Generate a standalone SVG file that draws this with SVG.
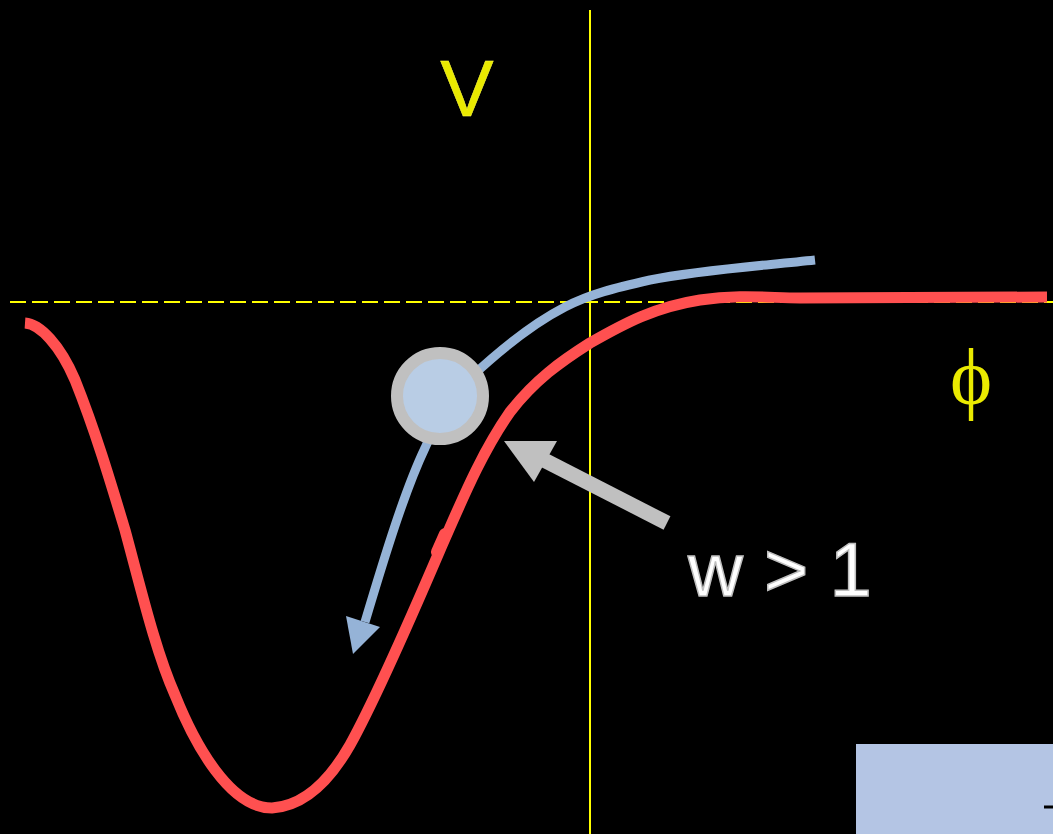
<svg xmlns="http://www.w3.org/2000/svg" width="1053" height="834" viewBox="0 0 1053 834">
<style>
.axis{stroke:#ffff00;stroke-width:2;fill:none}
.red{stroke:#ff5050;stroke-width:11;fill:none;stroke-linejoin:round}
.blue{stroke:#95b3d7;stroke-width:9;fill:none}
.lbl{font-family:"Liberation Sans",Arial,sans-serif}
</style>
<rect x="0" y="0" width="1053" height="834" fill="#000"/>
<g id="axes">
<line class="axis" x1="590" y1="10" x2="590" y2="834"/>
<line class="axis" x1="10" y1="302" x2="1053" y2="302" stroke-dasharray="16,6"/>
</g>
<g id="potential">
<path class="red" d="M25,323 C40,324 60,345 75,380 C95,430 110,480 125,530 C140,585 155,650 175,695 C195,745 230,808 272,808 C305,806 330,780 350,745 C375,700 410,620 440,550 C460,505 480,455 510,412 C535,380 560,362 590,343 C625,323 655,307 700,300 C740,294 770,298 800,298 C850,298 900,297 1047,297"/>
<path d="M437,552 L445,534" stroke="#ff5050" stroke-width="12" stroke-linecap="round"/>
</g>
<g id="connectors">
<path class="blue" d="M815,260 C760,266 700,270 650,280 C615,288 590,294 565,307 C530,325 500,350 470,378 C450,398 435,425 425,448 C405,490 385,555 365,622"/>
<polygon points="346,616 380,627 353,654" fill="#95b3d7"/>
<line x1="667" y1="523" x2="540" y2="458" stroke="#c0c0c0" stroke-width="15"/>
<polygon points="504,441 557,441 534,482" fill="#c0c0c0"/>
</g>
<g id="ball">
<circle cx="440" cy="396" r="43" fill="#b9cde5" stroke="#c0c0c0" stroke-width="12"/>
</g>
<g id="label-V">
<text class="lbl" x="467" y="116" font-size="80" text-anchor="middle" fill="#eaea00" stroke="#ffff40" stroke-width="0.5">V</text>
</g>
<g id="label-phi">
<text x="971" y="404" font-family="'Liberation Serif','DejaVu Serif',serif" font-size="80" text-anchor="middle" fill="#eaea00">ϕ</text>
</g>
<g id="label-w">
<text class="lbl" x="780" y="596" font-size="76" text-anchor="middle" fill="#ffffff" stroke="#bfbfbf" stroke-width="1.5">w &gt; 1</text>
</g>
<g id="box">
<rect x="856" y="744" width="197" height="90" fill="#b4c5e4"/>
<line x1="1044" y1="807" x2="1053" y2="807" stroke="#000" stroke-width="3"/>
</g>
</svg>
